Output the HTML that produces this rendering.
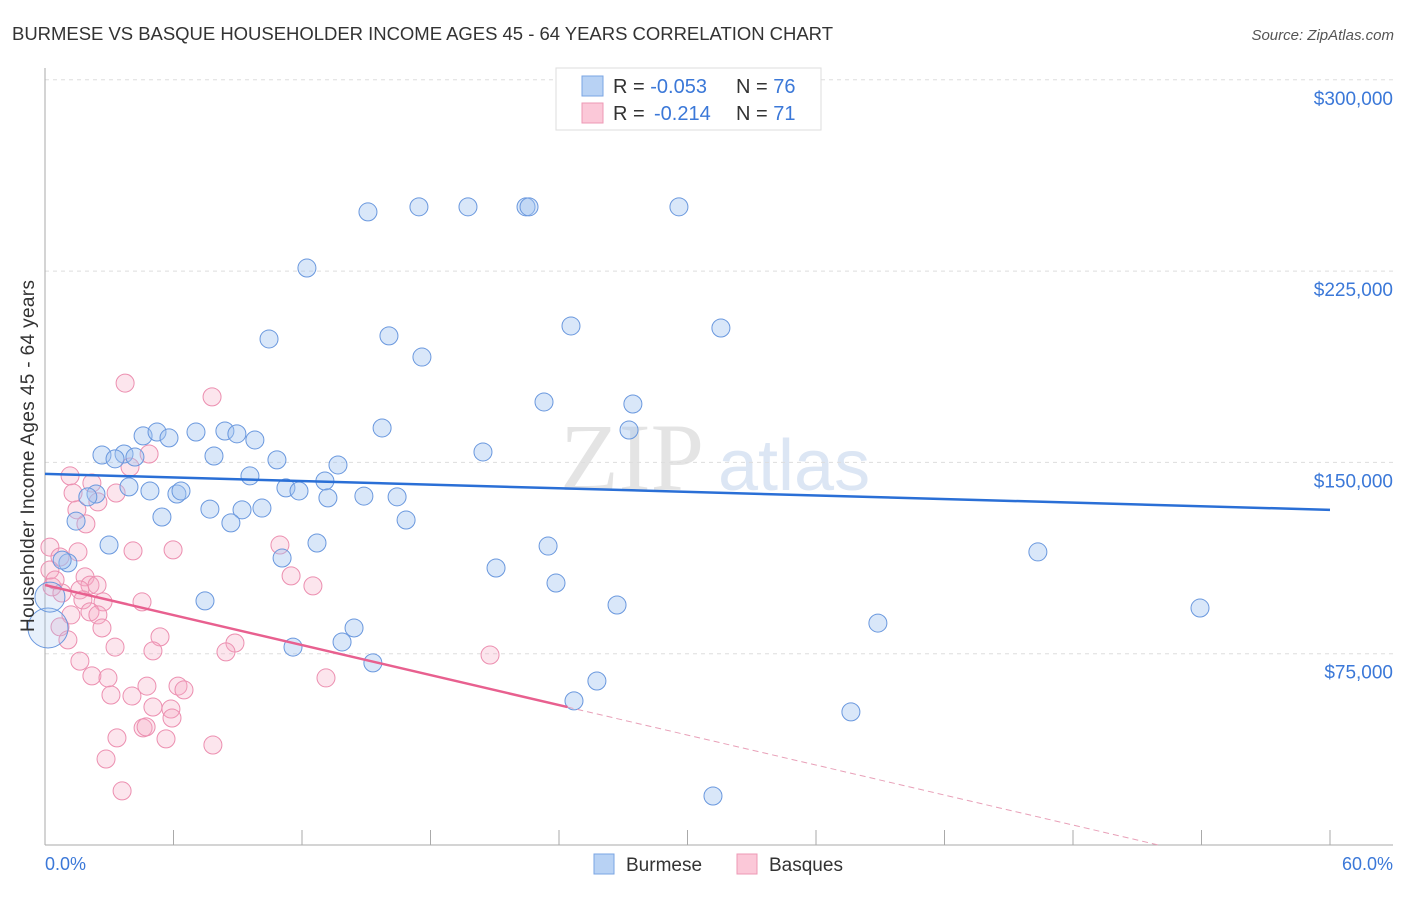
<!DOCTYPE html>
<html><head><meta charset="utf-8"><style>
body{margin:0;background:#fff;font-family:"Liberation Sans",sans-serif;}
svg text{font-family:"Liberation Sans",sans-serif;}
</style></head><body>
<svg id="c" width="1406" height="892" xmlns="http://www.w3.org/2000/svg">
<text x="12" y="40" font-size="18.5" fill="#333" textLength="821">BURMESE VS BASQUE HOUSEHOLDER INCOME AGES 45 - 64 YEARS CORRELATION CHART</text>
<text x="1394" y="40" font-size="15" fill="#555" text-anchor="end" font-style="italic">Source: ZipAtlas.com</text>
<text x="560" y="490" font-size="96" fill="#e4e4e4" font-family="Liberation Serif" style="font-family:'Liberation Serif',serif">ZIP</text>
<text x="718" y="490" font-size="72" fill="#dce6f4">atlas</text>
<g id="grid"></g><g id="axes"></g><g id="pts"></g><g id="trend"></g>
<text transform="translate(34,456) rotate(-90)" font-size="19" fill="#333" text-anchor="middle" textLength="352">Householder Income Ages 45 - 64 years</text>
<text x="45" y="870" font-size="18" fill="#3b78d8">0.0%</text>
<text x="1393" y="870" font-size="18" fill="#3b78d8" text-anchor="end">60.0%</text>
<g>
<rect x="556" y="68" width="265" height="62" fill="#fff" stroke="#ddd"/>
<rect x="582" y="76" width="21" height="20" fill="#b8d2f4" stroke="#7aa5e3"/>
<rect x="582" y="103" width="21" height="20" fill="#fbc8d8" stroke="#ee98b5"/>
<text x="613" y="93" font-size="20" fill="#333">R = <tspan fill="#3b78d8">-0.053</tspan><tspan x="736">N = </tspan><tspan fill="#3b78d8">76</tspan></text>
<text x="613" y="120" font-size="20" fill="#333">R = <tspan x="654" fill="#3b78d8">-0.214</tspan><tspan x="736">N = </tspan><tspan fill="#3b78d8">71</tspan></text>
</g>
<g>
<rect x="594" y="854" width="20" height="20" fill="#b8d2f4" stroke="#7aa5e3"/>
<text x="626" y="871" font-size="19" fill="#333">Burmese</text>
<rect x="737" y="854" width="20" height="20" fill="#fbc8d8" stroke="#ee98b5"/>
<text x="769" y="871" font-size="19" fill="#333">Basques</text>
</g>
</svg>
<script>
const yTicks=[75000,150000,225000,300000];
const yTickLabels=["$75,000","$150,000","$225,000","$300,000"];
const xTicks=[0,6,12,18,24,30,36,42,48,54,60];
const burmeseX=[15.08,17.46,19.75,22.46,22.6,29.6,12.23,10.46,16.06,17.6,24.56,31.56,23.3,27.45,15.74,27.27,20.45,4.58,5.23,5.79,7.05,8.4,8.96,9.8,2.66,3.69,4.2,3.27,7.89,10.83,9.57,13.68,13.07,3.92,4.9,6.16,6.35,2.38,2.0,11.25,11.86,13.21,14.89,16.44,7.7,9.2,10.13,5.46,8.68,16.86,1.45,2.99,12.7,23.49,46.36,11.07,21.06,23.86,7.47,26.71,53.93,14.43,38.89,13.87,11.58,15.31,25.77,24.7,37.63,31.19,1.07,0.8,0.14,0.23];
const burmeseY=[248.2,250.2,250.2,250.2,250.2,250.2,226.2,198.4,199.6,191.3,203.5,202.7,173.7,172.9,163.5,162.7,154.1,160.4,161.9,159.6,161.9,162.3,161.2,158.8,152.9,153.3,152.1,151.4,152.5,151.0,144.7,149.0,142.7,140.4,138.8,137.6,138.8,137.6,136.5,140.0,138.8,136.1,136.8,136.5,131.7,131.4,132.1,128.6,126.3,127.4,127.0,117.6,118.4,117.2,114.9,112.5,108.6,102.7,95.7,94.1,92.9,85.1,87.0,79.6,77.6,71.4,64.3,56.5,52.2,19.2,110.6,111.7,85.1,97.2];
const burmeseR=[9,9,9,9,9,9,9,9,9,9,9,9,9,9,9,9,9,9,9,9,9,9,9,9,9,9,9,9,9,9,9,9,9,9,9,9,9,9,9,9,9,9,9,9,9,9,9,9,9,9,9,9,9,9,9,9,9,9,9,9,9,9,9,9,9,9,9,9,9,9,9,9,20,15];
const basqueX=[3.74,7.8,4.86,3.97,1.17,2.19,1.31,3.32,2.47,1.49,1.91,4.11,5.98,10.97,11.49,12.51,0.23,1.54,0.7,1.87,2.1,2.43,1.63,0.33,0.79,1.77,2.71,4.53,2.1,2.47,1.21,2.66,0.7,1.07,5.37,5.04,3.27,8.87,8.45,1.63,2.19,2.94,3.08,4.06,4.76,6.21,6.49,5.04,5.88,5.93,4.58,4.72,5.65,3.36,7.84,2.85,3.6,13.12,20.78,0.23,0.47];
const basqueY=[181.1,175.7,153.3,148.2,144.7,141.9,138.0,138.0,134.5,131.4,125.9,115.3,115.7,117.6,105.5,101.6,116.8,114.9,112.9,105.1,101.9,101.9,100.0,101.2,98.8,96.1,95.3,95.3,91.4,90.2,90.2,85.1,85.5,80.4,81.6,76.1,77.6,79.2,75.7,72.1,66.3,65.5,58.8,58.4,62.3,62.3,60.8,54.1,53.3,49.8,45.9,46.3,41.6,42.0,39.2,33.7,21.2,65.5,74.5,107.8,103.9];
const burmeseTrend=[145.5,131.4];
const basqueTrend=[101.9,-1.96,24.4];
const X=p=>45+p*1285/60, Y=k=>845-k*1000*191.3/75000;
const NS="http://www.w3.org/2000/svg";
function mk(t,a,parent){const e=document.createElementNS(NS,t);for(const k in a)e.setAttribute(k,a[k]);document.getElementById(parent).appendChild(e);return e;}
yTicks.forEach((v,i)=>{
 const l=mk('line',{x1:45,x2:1393,y1:Y(v/1000),y2:Y(v/1000),stroke:'#ddd','stroke-dasharray':'4,4'},'grid');
 
 
 const t=mk('text',{x:1393,y:Y(v/1000)+25,'font-size':19,fill:'#3b78d8','text-anchor':'end'},'grid');
 t.textContent=yTickLabels[i];
 
 
});
let a=mk('line',{x1:45,x2:45,y1:68,y2:845,stroke:'#aaa'},'axes');


a=mk('line',{x1:45,x2:1393,y1:845,y2:845,stroke:'#aaa'},'axes');


xTicks.forEach(p=>{const t=mk('line',{x1:X(p),x2:X(p),y1:830,y2:845,stroke:'#aaa'},'axes');
 
 });
basqueX.forEach((x,i)=>{const c=mk('circle',{cx:X(x),cy:Y(basqueY[i]),r:9,fill:'rgba(246,170,196,0.3)',stroke:'#ec8fb0','stroke-width':1},'pts');
 
 });
burmeseX.forEach((x,i)=>{const c=mk('circle',{cx:X(x),cy:Y(burmeseY[i]),r:burmeseR[i],fill:burmeseR[i]>9?'rgba(160,196,240,0.25)':'rgba(160,196,240,0.4)',stroke:'#6a98de','stroke-width':1},'pts');
 
 });
let t=mk('line',{x1:X(0),y1:Y(burmeseTrend[0]),x2:X(60),y2:Y(burmeseTrend[1]),stroke:'#2a6fd6','stroke-width':2.5},'trend');


const bq=p=>basqueTrend[0]+basqueTrend[1]*p;
t=mk('line',{x1:X(0),y1:Y(bq(0)),x2:X(basqueTrend[2]),y2:Y(bq(basqueTrend[2])),stroke:'#e8608f','stroke-width':2.5},'trend');


const pEnd=-basqueTrend[0]/basqueTrend[1];
t=mk('line',{x1:X(basqueTrend[2]),y1:Y(bq(basqueTrend[2])),x2:X(pEnd),y2:Y(0),stroke:'#e8a0b8','stroke-width':1,'stroke-dasharray':'6,4'},'trend');


</script>
</body></html>
